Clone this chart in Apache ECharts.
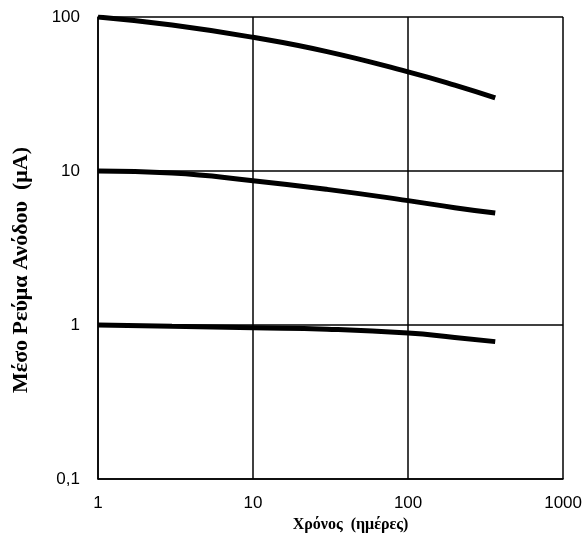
<!DOCTYPE html>
<html>
<head>
<meta charset="utf-8">
<script src="https://cdn.jsdelivr.net/npm/echarts@6/dist/echarts.min.js"></script>
<style>html,body{margin:0;padding:0;background:#fff}#c{width:585px;height:544px}</style>
</head>
<body>
<div id="c"></div>
<script>
const days = [1, 3, 10, 30, 100, 200, 365];
const curve100 = [100, 88.7, 73.8, 59.6, 44, 36.1, 29.8];
const curve10 = [10, 9.7, 8.65, 7.6, 6.42, 5.78, 5.33];
const curve1 = [1, 0.98, 0.96, 0.94, 0.887, 0.83, 0.78];
const xTicks = [1, 10, 100, 1000];
const yTicks = [0.1, 1, 10, 100];
const xName = 'Χρόνος  (ημέρες)';
const yName = 'Μέσο Ρεύμα Ανόδου  (μA)';

function pairs(ys){ return days.map((d,i)=>[d, ys[i]]); }
function mk(ys){ return {type:'line', data:pairs(ys), smooth:0.5, showSymbol:false, symbol:'none',
  lineStyle:{color:'#000', width:5, cap:'butt'}, silent:true}; }

const chart = echarts.init(document.getElementById('c'));
chart.setOption({
  animation:false,
  backgroundColor:'#fff',
  grid:{left:98, right:21, top:17, bottom:65},
  xAxis:{type:'log', logBase:10, min:xTicks[0], max:xTicks[xTicks.length-1],
    name:xName, nameLocation:'middle', nameGap:34,
    nameTextStyle:{fontFamily:'Liberation Serif', fontWeight:'bold', fontSize:16, color:'#000', padding:[0,0,0,40]},
    axisLine:{lineStyle:{color:'#000', width:1.5}}, axisTick:{show:false},
    axisLabel:{fontFamily:'Liberation Sans', fontSize:17, color:'#000', margin:16,
      formatter:v=>String(v)},
    splitLine:{show:true, lineStyle:{color:'#000', width:1.5}}},
  yAxis:{type:'log', logBase:10, min:yTicks[0], max:yTicks[yTicks.length-1],
    name:yName, nameLocation:'middle', nameGap:66,
    nameTextStyle:{fontFamily:'Liberation Serif', fontWeight:'bold', fontSize:22, color:'#000', padding:[0,44,0,0]},
    axisLine:{lineStyle:{color:'#000', width:1.5}}, axisTick:{show:false},
    axisLabel:{fontFamily:'Liberation Sans', fontSize:17, color:'#000', margin:18,
      formatter:v=>String(v).replace('.', ',')},
    splitLine:{show:true, lineStyle:{color:'#000', width:1.5}}},
  series:[mk(curve100), mk(curve10), mk(curve1)]
});
</script>
</body>
</html>
